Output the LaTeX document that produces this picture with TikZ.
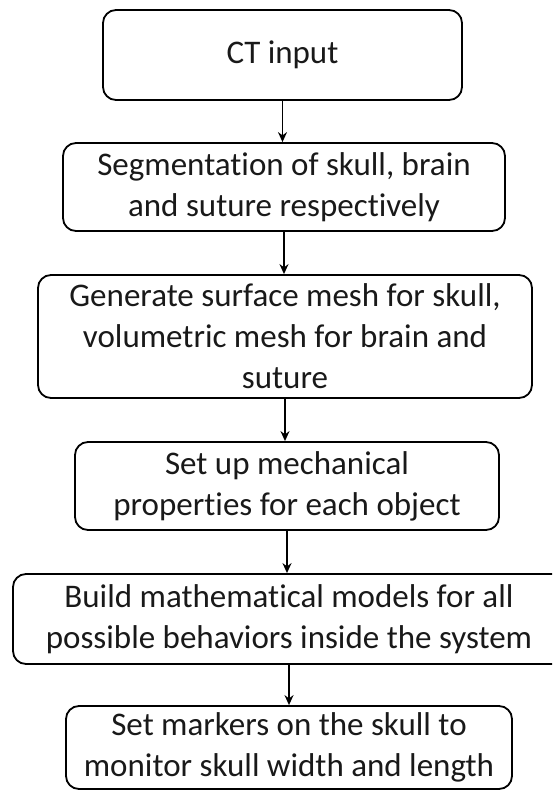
\documentclass[tikz,border=0pt]{standalone}
\usepackage{fontspec}
\setmainfont{Carlito}[Ligatures=NoCommon]
\usetikzlibrary{arrows.meta}
\tikzset{
  stepbox/.style={draw=black, line width=1.8pt, rounded corners=13pt, align=center,
    inner sep=0pt, font=\fontsize{33}{41}\selectfont, text=black!90},
  flow/.style={draw=black, line width=1.5pt, -{Stealth[length=10pt,width=9pt]}}
}
\begin{document}
\begin{tikzpicture}[x=1pt,y=-1pt]
\useasboundingbox (0,0) rectangle (552,790);
\clip (0,0) rectangle (552,790);
\node[stepbox, minimum width=359pt, minimum height=90pt] (n1) at (282.5,55) {CT input};
\node[stepbox, minimum width=442pt, minimum height=88pt] (n2) at (284,187) {Segmentation of skull, brain\\and suture respectively};
\node[stepbox, minimum width=494pt, minimum height=123pt] (n3) at (285,336.5) {Generate surface mesh for skull,\\volumetric mesh for brain and\\suture};
\node[stepbox, minimum width=424pt, minimum height=88pt] (n4) at (287,486) {Set up mechanical\\properties for each object};
\node[stepbox, minimum width=552pt, minimum height=90pt] (n5) at (289,619) {Build mathematical models for all\\possible behaviors inside the system};
\node[stepbox, minimum width=446pt, minimum height=83pt] (n6) at (289,747.5) {Set markers on the skull to\\monitor skull width and length};
\draw[flow] (n1.south) -- (n1.south |- n2.north);
\draw[flow] (n2.south) -- (n2.south |- n3.north);
\draw[flow] (n3.south) -- (n3.south |- n4.north);
\draw[flow] (n4.south) -- (n4.south |- n5.north);
\draw[flow] (n5.south) -- (n5.south |- n6.north);
\end{tikzpicture}
\end{document}
